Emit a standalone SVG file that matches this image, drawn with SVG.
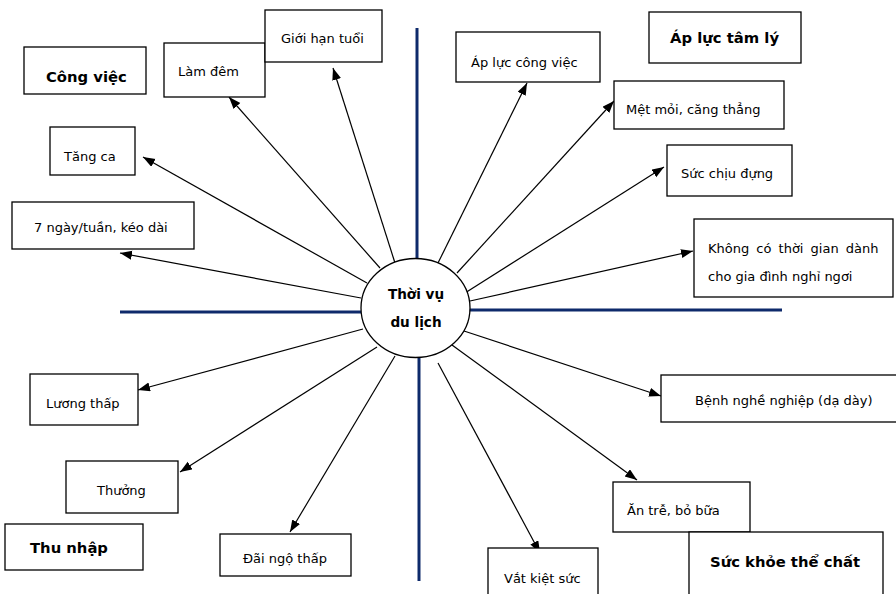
<svg xmlns="http://www.w3.org/2000/svg" width="896" height="594" viewBox="0 0 896 594">
<style>
.box{fill:#fff;stroke:#000;stroke-width:1.3}
.t{font-family:"DejaVu Sans","Verdana",sans-serif;font-size:13px;fill:#000}
.h{font-family:"DejaVu Sans","Verdana",sans-serif;font-size:14.8px;font-weight:bold;fill:#000}
.c{font-family:"DejaVu Sans","Verdana",sans-serif;font-size:13.6px;font-weight:bold;fill:#000;text-anchor:middle}
.axis{stroke:#0e2a6b;stroke-width:3;fill:none}
.arr{stroke:#000;stroke-width:1.2;fill:none;marker-end:url(#ah)}
</style>
<defs>
<marker id="ah" markerUnits="userSpaceOnUse" markerWidth="13" markerHeight="10" refX="12" refY="4.5" orient="auto">
<path d="M0,0 L12,4.5 L0,9 z" fill="#000"/>
</marker>
</defs>
<rect width="896" height="594" fill="#fff"/>
<g id="axes">
<line class="axis" x1="417" y1="28" x2="417" y2="259"/>
<line class="axis" x1="419" y1="357" x2="419" y2="581"/>
<line class="axis" x1="120" y1="312" x2="361" y2="312"/>
<line class="axis" x1="469" y1="310" x2="782" y2="310"/>
</g>
<g id="connectors">
<line class="arr" x1="380" y1="268" x2="229" y2="97"/>
<line class="arr" x1="395" y1="263" x2="333" y2="68"/>
<line class="arr" x1="367" y1="283" x2="143" y2="157"/>
<line class="arr" x1="361" y1="298" x2="120" y2="253"/>
<line class="arr" x1="438" y1="263" x2="527" y2="83"/>
<line class="arr" x1="457" y1="273" x2="614" y2="101"/>
<line class="arr" x1="465" y1="293" x2="664" y2="167"/>
<line class="arr" x1="470" y1="301" x2="693" y2="251"/>
<line class="arr" x1="363" y1="329" x2="138" y2="390"/>
<line class="arr" x1="377" y1="347" x2="180" y2="472"/>
<line class="arr" x1="395" y1="356" x2="290" y2="532"/>
<line class="arr" x1="438" y1="363" x2="540" y2="553"/>
<line class="arr" x1="452" y1="345" x2="637" y2="480"/>
<line class="arr" x1="464" y1="331" x2="661" y2="396"/>
</g>
<g id="center">
<ellipse cx="415.5" cy="308" rx="54.5" ry="49.5" fill="#fff" stroke="#000" stroke-width="1.3"/>
<text class="c" x="416" y="299">Thời vụ</text>
<text class="c" x="416" y="327">du lịch</text>
</g>
<g id="cong-viec"><rect class="box" x="24" y="47" width="122" height="47"/><text class="h" x="46" y="82">Công việc</text></g>
<g id="lam-dem"><rect class="box" x="164" y="43" width="101" height="54"/><text class="t" x="178" y="76">Làm đêm</text></g>
<g id="gioi-han-tuoi"><rect class="box" x="265" y="10" width="117" height="52"/><text class="t" x="281" y="43">Giới hạn tuổi</text></g>
<g id="tang-ca"><rect class="box" x="50" y="127" width="85" height="48"/><text class="t" x="64" y="161">Tăng ca</text></g>
<g id="bay-ngay"><rect class="box" x="12" y="202" width="182" height="47"/><text class="t" x="34" y="232">7 ngày/tuần, kéo dài</text></g>
<g id="ap-luc-cong-viec"><rect class="box" x="456" y="32" width="144" height="50"/><text class="t" x="471" y="67">Áp lực công việc</text></g>
<g id="ap-luc-tam-ly"><rect class="box" x="649" y="12" width="152" height="51"/><text class="h" x="670" y="43">Áp lực tâm lý</text></g>
<g id="met-moi"><rect class="box" x="614" y="81" width="170" height="48"/><text class="t" x="626" y="114">Mệt mỏi, căng thẳng</text></g>
<g id="suc-chiu-dung"><rect class="box" x="667" y="145" width="125" height="51"/><text class="t" x="681" y="178">Sức chịu đựng</text></g>
<g id="khong-co-thoi-gian"><rect class="box" x="694" y="219" width="199" height="78"/><text class="t" x="708" y="253" word-spacing="3">Không có thời gian dành</text><text class="t" x="708" y="281">cho gia đình nghỉ ngơi</text></g>
<g id="benh-nghe-nghiep"><rect class="box" x="661" y="375" width="240" height="47"/><text class="t" x="695" y="405">Bệnh nghề nghiệp (dạ dày)</text></g>
<g id="an-tre"><rect class="box" x="613" y="482" width="137" height="50"/><text class="t" x="627" y="515">Ăn trễ, bỏ bữa</text></g>
<g id="suc-khoe-the-chat"><rect class="box" x="689" y="532" width="194" height="70"/><text class="h" x="710" y="567">Sức khỏe thể chất</text></g>
<g id="vat-kiet-suc"><rect class="box" x="488" y="548" width="110" height="54"/><text class="t" x="504" y="583">Vắt kiệt sức</text></g>
<g id="luong-thap"><rect class="box" x="30" y="374" width="108" height="51"/><text class="t" x="46" y="408">Lương thấp</text></g>
<g id="thuong"><rect class="box" x="66" y="461" width="112" height="52"/><text class="t" x="97" y="495">Thưởng</text></g>
<g id="thu-nhap"><rect class="box" x="5" y="524" width="138" height="46"/><text class="h" x="30" y="553">Thu nhập</text></g>
<g id="dai-ngo-thap"><rect class="box" x="220" y="534" width="131" height="42"/><text class="t" x="243" y="563">Đãi ngộ thấp</text></g>
</svg>
